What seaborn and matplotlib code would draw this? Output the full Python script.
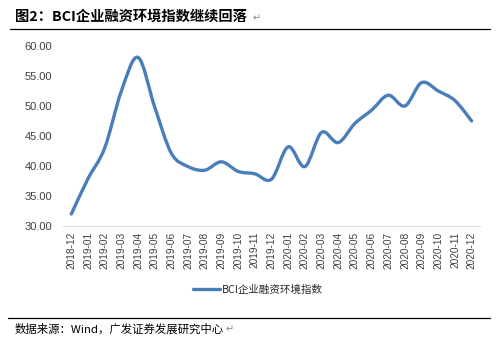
import numpy as np
import pandas as pd
import matplotlib
matplotlib.use("Agg")
import matplotlib.pyplot as plt
import seaborn as sns
from matplotlib.path import Path
from matplotlib.patches import PathPatch
from matplotlib.lines import Line2D

months = ["2018-12", "2019-01", "2019-02", "2019-03", "2019-04", "2019-05", "2019-06",
          "2019-07", "2019-08", "2019-09", "2019-10", "2019-11", "2019-12", "2020-01",
          "2020-02", "2020-03", "2020-04", "2020-05", "2020-06", "2020-07", "2020-08",
          "2020-09", "2020-10", "2020-11", "2020-12"]
bci = [32.0, 37.9, 43.0, 52.5, 58.1, 49.8, 42.1, 39.9, 39.3, 40.7, 39.1, 38.7, 37.8,
       43.2, 39.9, 45.6, 43.9, 47.1, 49.3, 51.8, 50.0, 53.9, 52.5, 50.9, 47.5]
yticks = [30, 35, 40, 45, 50, 55, 60]
series_name = "BCI企业融资环境指数"
title = "图2：BCI企业融资环境指数继续回落"
source = "数据来源：Wind，广发证券发展研究中心"

sns.set_style("white")
plt.rcParams['font.family'] = ['Noto Sans CJK SC', 'DejaVu Sans']

df = pd.DataFrame({"month": months, "value": bci})
df["pos"] = np.arange(len(months))

fig = plt.figure(figsize=(4.97, 3.45), dpi=100)
ax = fig.add_axes([63/497, 1-226/345, (480-63)/497, (226-46)/345])

color = "#4a7ebb"
sns.lineplot(data=df, x="pos", y="value", ax=ax, color=color, linewidth=2.4, legend=False)
base_line = ax.lines[0]
base_line.set_visible(False)

# smooth line (Catmull-Rom -> Bezier) in data coordinates
x = df["pos"].to_numpy(float)
y = df["value"].to_numpy(float)
verts = [(x[0], y[0])]
codes = [Path.MOVETO]
n = len(x)
for i in range(n - 1):
    p0 = (x[i-1], y[i-1]) if i > 0 else (x[i], y[i])
    p1 = (x[i], y[i])
    p2 = (x[i+1], y[i+1])
    p3 = (x[i+2], y[i+2]) if i + 2 < n else (x[i+1], y[i+1])
    c1 = (p1[0] + (p2[0]-p0[0])/6, p1[1] + (p2[1]-p0[1])/6)
    c2 = (p2[0] - (p3[0]-p1[0])/6, p2[1] - (p3[1]-p1[1])/6)
    verts += [c1, c2, p2]
    codes += [Path.CURVE4]*3
patch = PathPatch(Path(verts, codes), facecolor="none", edgecolor=color, linewidth=2.4,
                  capstyle="round", joinstyle="round")
ax.add_patch(patch)

ax.set_xlim(-0.5, len(months)-0.5)
ax.set_ylim(30, 60)
ax.set_yticks(yticks)
ax.set_yticklabels([f"{v:.2f}" for v in yticks], fontsize=8, color="#404040",
                   family=["Liberation Sans", "DejaVu Sans"])
ax.set_xticks(df["pos"])
ax.set_xticklabels(months, rotation=90, fontsize=7.3, color="#404040",
                   family=["Liberation Sans", "DejaVu Sans"])
ax.set_xticks(np.arange(-0.5, len(months)), minor=True)
ax.tick_params(axis="x", which="major", length=0, pad=4)
ax.tick_params(axis="x", which="minor", length=4, color="#d9d9d9", width=0.8, direction="out")
ax.tick_params(axis="y", length=0, pad=8)
ax.set_xlabel("")
ax.set_ylabel("")
for s in ["top", "right", "left"]:
    ax.spines[s].set_visible(False)
ax.spines["bottom"].set_color("#d9d9d9")
ax.spines["bottom"].set_linewidth(0.8)

handle = Line2D([], [], color=color, linewidth=2.4)
fig.legend([handle], [series_name], loc="center", bbox_to_anchor=(258/497, 1-290/345),
           frameon=False, handlelength=2.5, handletextpad=0.2,
           prop={"family": ["Noto Sans CJK SC", "DejaVu Sans"], "size": 7.6})

t1 = fig.text(15/497, 1-17/345, title, fontsize=10.3, fontweight="bold", va="center", ha="left",
              color="black")
fig.add_artist(Line2D([10/497, 490/497], [1-29/345, 1-29/345], color="black", linewidth=0.9))
fig.add_artist(Line2D([8/497, 490/497], [1-318/345, 1-318/345], color="black", linewidth=0.9))
t2 = fig.text(15/497, 1-329/345, source, fontsize=8.2, va="center", ha="left", color="black")

fig.canvas.draw()
r = fig.canvas.get_renderer()
for t, gap, dy in [(t1, 6, 1), (t2, 1, 0)]:
    bb = t.get_window_extent(r)
    fig.text((bb.x1 + gap)/497, t.get_position()[1] - dy/345, "↵", fontsize=7, va="center",
             ha="left", color="#888888", family=["DejaVu Sans"])

fig.savefig("out.png", dpi=100)
